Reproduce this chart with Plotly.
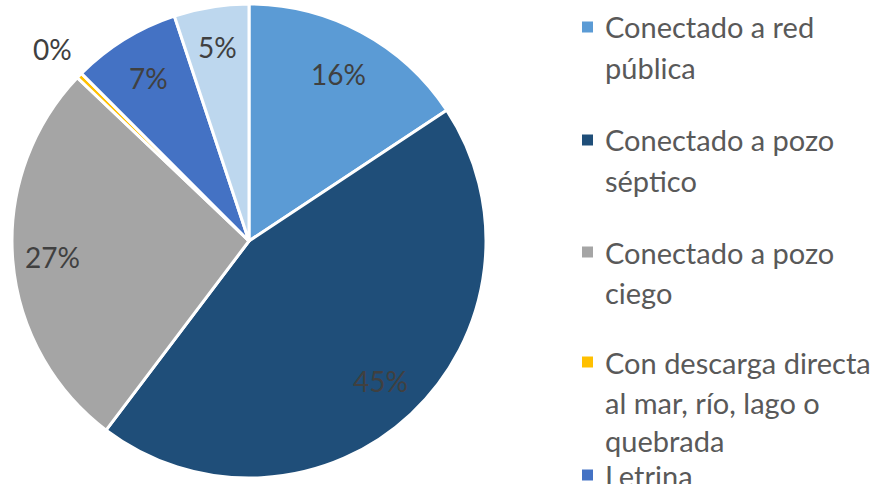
import math
import plotly.graph_objects as go

# ---- data ----
categories = [
    "Conectado a red pública",
    "Conectado a pozo séptico",
    "Conectado a pozo ciego",
    "Con descarga directa al mar, río, lago o quebrada",
    "Letrina",
    "Otro",
]
values = [15.7, 44.6, 26.8, 0.4, 7.4, 5.1]
legend_lines = [
    ["Conectado a red", "pública"],
    ["Conectado a pozo", "séptico"],
    ["Conectado a pozo", "ciego"],
    ["Con descarga directa", "al mar, río, lago o", "quebrada"],
    ["Letrina"],
]

# ---- styles ----
colors = ["#5B9BD5", "#1F4E79", "#A5A5A5", "#FFC000", "#4472C4", "#BDD7EE"]
label_radius = [0.80, 0.81, 0.83, 1.16, 0.81, 0.83]
W, H = 876, 484
CX, CY, R = 249, 241, 237
FONT = "Lato"

fig = go.Figure()
fig.add_trace(go.Pie(
    labels=categories,
    values=values,
    sort=False,
    direction="clockwise",
    rotation=0,
    marker=dict(colors=colors, line=dict(color="white", width=3)),
    textinfo="none",
    hoverinfo="label+percent",
    showlegend=False,
    domain=dict(x=[(CX - R) / W, (CX + R) / W], y=[1 - (CY + R) / H, 1 - (CY - R) / H]),
))

# data labels computed from the values
total = sum(values)
cum = 0.0
annotations = []
for v, rf in zip(values, label_radius):
    mid = (cum + v / 2) / total * 2 * math.pi
    cum += v
    px = CX + rf * R * math.sin(mid)
    py = CY - rf * R * math.cos(mid)
    annotations.append(dict(
        x=px / W, y=1 - py / H, xref="paper", yref="paper",
        text=f"{round(v / total * 100)}%", showarrow=False,
        xanchor="center", yanchor="middle",
        font=dict(family=FONT, size=28, color="#404040"),
    ))

# legend (manual, Excel-like wrapping)
line_y = [[27, 67], [140, 180], [252, 292], [362, 402, 440], [475]]
shapes = []
for i, lines in enumerate(legend_lines):
    ys = line_y[i]
    shapes.append(dict(
        type="rect", xref="paper", yref="paper",
        x0=582 / W, x1=593 / W, y0=1 - (ys[0] + 5.5) / H, y1=1 - (ys[0] - 5.5) / H,
        fillcolor=colors[i], line=dict(width=0),
    ))
    for t, y in zip(lines, ys):
        annotations.append(dict(
            x=603 / W, y=1 - y / H, xref="paper", yref="paper",
            text=t, showarrow=False, xanchor="left", yanchor="middle",
            font=dict(family=FONT, size=29, color="#595959"),
        ))

fig.update_layout(
    width=W, height=H,
    margin=dict(l=0, r=0, t=0, b=0),
    paper_bgcolor="white", plot_bgcolor="white",
    annotations=annotations, shapes=shapes,
)
fig.write_html(
    "out.html",
    config={"displayModeBar": False},
    post_script="document.body.style.margin='0';document.body.style.overflow='hidden';",
)
